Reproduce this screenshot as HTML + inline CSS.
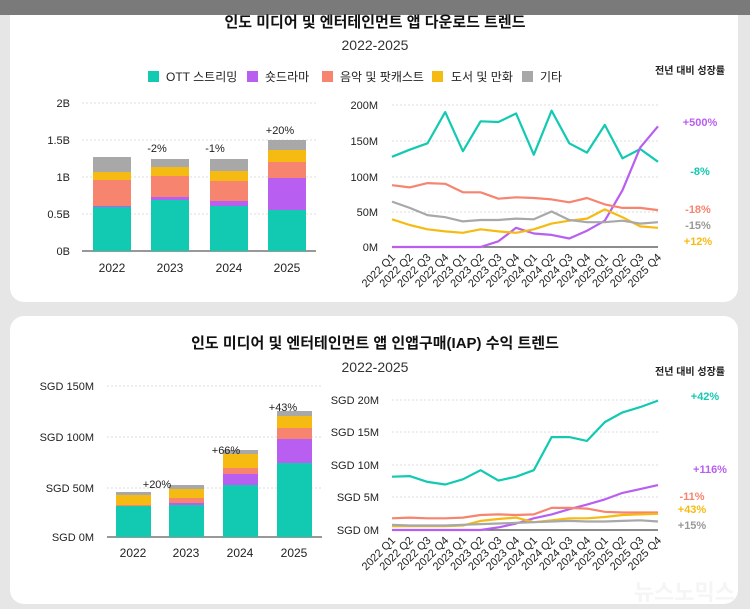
<!DOCTYPE html>
<html><head><meta charset="utf-8">
<style>
html,body{margin:0;padding:0;background:#e9e9e9;}
body{width:750px;height:609px;overflow:hidden;position:relative;font-family:"Liberation Sans","Noto Sans CJK KR",sans-serif;}
svg{position:absolute;left:0;top:0;}
text{font-family:"Liberation Sans","Noto Sans CJK KR",sans-serif;}
</style></head>
<body>
<svg id="s" width="750" height="609" viewBox="0 0 750 609" xmlns="http://www.w3.org/2000/svg">
<rect x="0" y="0" width="750" height="609" fill="#e6e6e6"/>
<rect x="10" y="2" width="728" height="300" rx="14" fill="#fff"/>
<rect x="10" y="316" width="728" height="288" rx="14" fill="#fff"/>
<rect x="0" y="0" width="750" height="15" fill="#7a7a7a"/>
<text x="375" y="27" font-size="15" font-weight="bold" text-anchor="middle" fill="#111">인도 미디어 및 엔터테인먼트 앱 다운로드 트렌드</text>
<text x="375" y="50" font-size="14" text-anchor="middle" fill="#333">2022-2025</text>
<g font-size="12" fill="#222">
<rect x="148" y="71" width="11" height="11" fill="#12c9b2"/><text x="166" y="81">OTT 스트리밍</text>
<rect x="247" y="71" width="11" height="11" fill="#b85ff2"/><text x="265" y="81">숏드라마</text>
<rect x="322" y="71" width="11" height="11" fill="#f6846f"/><text x="340" y="81">음악 및 팟캐스트</text>
<rect x="432" y="71" width="11" height="11" fill="#f6bb12"/><text x="451" y="81">도서 및 만화</text>
<rect x="522" y="71" width="11" height="11" fill="#a8a8a8"/><text x="540" y="81">기타</text>
</g>
<text x="690" y="74" font-size="10" font-weight="bold" text-anchor="middle" fill="#222">전년 대비 성장률</text>
<text x="375" y="348" font-size="15" font-weight="bold" text-anchor="middle" fill="#111">인도 미디어 및 엔터테인먼트 앱 인앱구매(IAP) 수익 트렌드</text>
<text x="375" y="372" font-size="14" text-anchor="middle" fill="#333">2022-2025</text>
<text x="690" y="375" font-size="10" font-weight="bold" text-anchor="middle" fill="#222">전년 대비 성장률</text>
<g id="g"></g>
<text x="735" y="600" font-size="22" font-weight="bold" text-anchor="end" fill="#f4f4f4" opacity="0.9">뉴스노믹스</text>
</svg>
<script>
var g=document.getElementById('g'),h='';
var C=['#12c9b2','#b85ff2','#f6846f','#f6bb12','#a8a8a8'];
function t(x,y,s,o){o=o||{};h+='<text x="'+x+'" y="'+y+'" font-size="'+(o.fs||11)+'" text-anchor="'+(o.a||'end')+'" fill="'+(o.c||'#222')+'"'+(o.b?' font-weight="bold"':'')+(o.tr?' transform="'+o.tr+'"':'')+'>'+s+'</text>';}
function grid(x1,x2,y){h+='<line x1="'+x1+'" x2="'+x2+'" y1="'+y+'" y2="'+y+'" stroke="#ddd" stroke-dasharray="2,2"/>';}
[[103,'2B'],[140,'1.5B'],[177,'1B'],[214,'0.5B'],[251,'0B']].forEach(function(a){if(a[1]!='0B')grid(82,316,a[0]);t(70,a[0]+4,a[1]);});
h+='<line x1="82" x2="316" y1="251" y2="251" stroke="#777" stroke-width="1.5"/>';
var B1=[[93,[251,207,206,180,172,157]],[151,[251,200,197,176,167,159]],[210,[251,206,201,181,171,159]],[268,[251,210,178,162,150,140]]];
B1.forEach(function(b,i){for(var k=0;k<5;k++)h+='<rect x="'+b[0]+'" y="'+b[1][k+1]+'" width="38" height="'+(b[1][k]-b[1][k+1])+'" fill="'+C[k]+'"/>';t(b[0]+19,272,2022+i,{a:'middle',fs:12});});
t(157,152,'-2%',{a:'middle'});t(215,152,'-1%',{a:'middle'});t(280,134,'+20%',{a:'middle'});
[[386,'SGD 150M'],[437,'SGD 100M'],[488,'SGD 50M'],[537,'SGD 0M']].forEach(function(a){if(a[0]!=537)grid(107,322,a[0]);t(94,a[0]+4,a[1]);});
h+='<line x1="107" x2="322" y1="537" y2="537" stroke="#777" stroke-width="1.5"/>';
var B2=[[116,[537,506,506,505,495,492]],[169,[537,505,503,498,489,485]],[223,[537,485,474,468,454,450]],[277,[537,463,439,428,416,411]]];
B2.forEach(function(b,i){for(var k=0;k<5;k++)h+='<rect x="'+b[0]+'" y="'+b[1][k+1]+'" width="35" height="'+(b[1][k]-b[1][k+1])+'" fill="'+C[k]+'"/>';t(b[0]+17,557,2022+i,{a:'middle',fs:12});});
t(157,488,'+20%',{a:'middle'});t(226,454,'+66%',{a:'middle'});t(283,411,'+43%',{a:'middle'});
function xl(y0){for(var i=0;i<16;i++){var x=392+i*17.73;t(x+4,y0,(2022+Math.floor(i/4))+' Q'+(i%4+1),{fs:11,tr:'rotate(-45 '+(x+4)+' '+y0+')'});}}
function lines(D,y0,sc){D.forEach(function(d,k){var p=d.map(function(v,i){return (392+i*17.73).toFixed(1)+','+(y0-v*sc).toFixed(1);}).join(' ');h+='<polyline points="'+p+'" fill="none" stroke="'+C[k]+'" stroke-width="2.2" stroke-linejoin="round"/>';});}
[[105,'200M'],[141,'150M'],[177,'100M'],[212,'50M'],[247,'0M']].forEach(function(a){if(a[1]!='0M')grid(392,658,a[0]);t(378,a[0]+4,a[1]);});
h+='<line x1="392" x2="658" y1="247" y2="247" stroke="#666" stroke-width="1.5"/>';
var sc1=(247-105)/200;
lines([[127,137,146,190,135,177,176,188,130,192,146,133,172,125,138,120],
[0,0,0,0,0,0,8,27,19,17,12,23,37,80,140,170],
[87,84,90,89,77,77,68,70,69,67,63,69,60,55,55,52],
[39,31,25,22,20,25,22,20,25,33,37,40,53,42,29,27],
[64,55,45,42,36,38,38,40,39,50,38,35,35,37,33,35]],247,sc1);
xl(258);
t(700,126,'+500%',{a:'middle',c:'#b85ff2',b:1});t(700,175,'-8%',{a:'middle',c:'#12c9b2',b:1});
t(698,213,'-18%',{a:'middle',c:'#f6846f',b:1});t(698,229,'-15%',{a:'middle',c:'#999',b:1});t(698,245,'+12%',{a:'middle',c:'#f6bb12',b:1});
[[400,'SGD 20M'],[432,'SGD 15M'],[465,'SGD 10M'],[497,'SGD 5M'],[530,'SGD 0M']].forEach(function(a){if(a[0]!=530)grid(392,658,a[0]);t(379,a[0]+4,a[1]);});
h+='<line x1="392" x2="658" y1="530" y2="530" stroke="#666" stroke-width="1.5"/>';
lines([[8.2,8.3,7.4,7.0,7.8,9.2,7.6,8.2,9.2,14.3,14.3,13.7,16.6,18.1,18.9,19.9],
[0,0,0,0,0,0,0.4,1.0,1.8,2.4,3.2,3.9,4.7,5.7,6.3,6.9],
[1.8,1.9,1.8,1.8,1.9,2.3,2.4,2.3,2.4,3.4,3.4,3.3,2.8,2.7,2.7,2.7],
[0.6,0.6,0.6,0.6,0.7,1.4,1.7,1.9,1.2,1.5,1.8,1.8,2.0,2.3,2.4,2.5],
[0.8,0.7,0.7,0.7,0.8,0.9,1.0,1.1,1.2,1.3,1.4,1.3,1.3,1.4,1.5,1.3]],530,6.5);
xl(541);
t(705,400,'+42%',{a:'middle',c:'#12c9b2',b:1});t(710,473,'+116%',{a:'middle',c:'#b85ff2',b:1});
t(692,500,'-11%',{a:'middle',c:'#f6846f',b:1});t(692,513,'+43%',{a:'middle',c:'#f6bb12',b:1});t(692,529,'+15%',{a:'middle',c:'#999',b:1});
g.innerHTML=h;
</script>
</body></html>
